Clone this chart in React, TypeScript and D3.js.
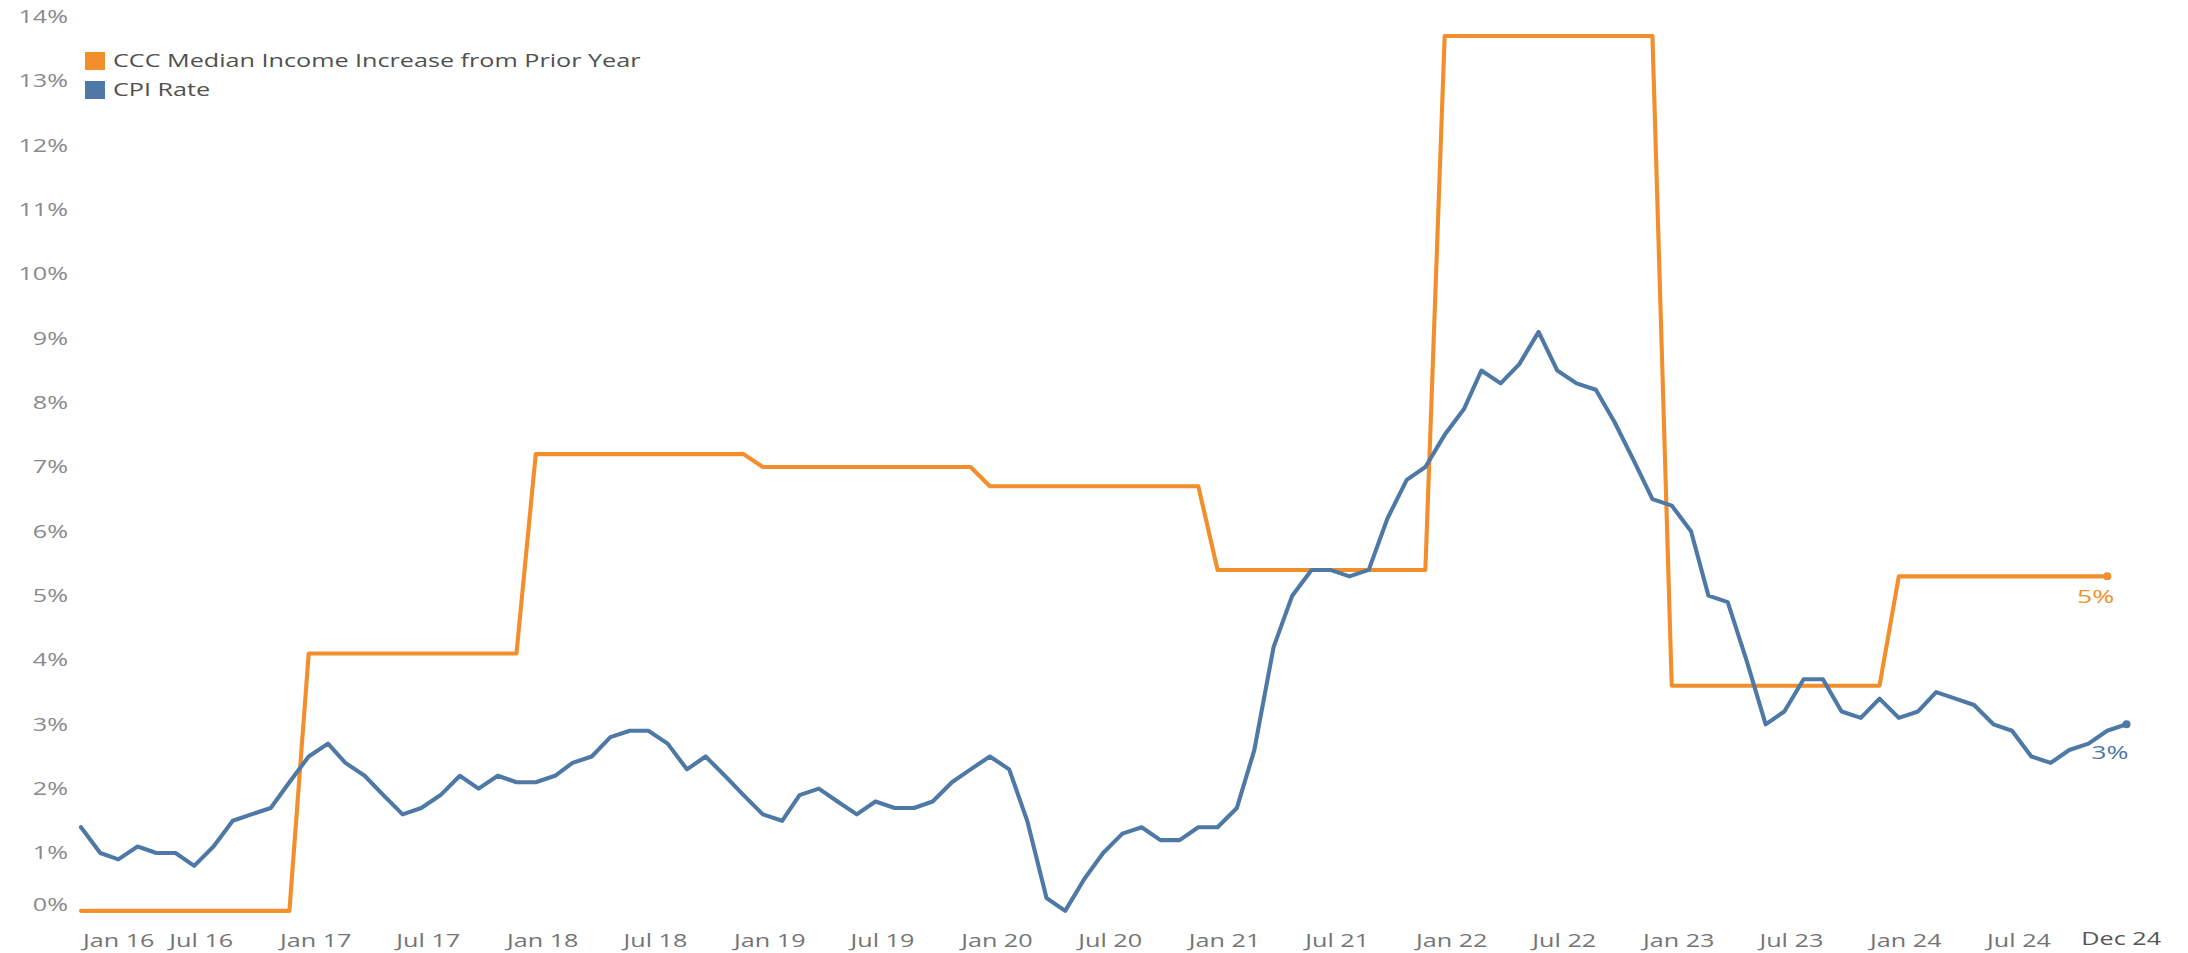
import React from 'react';
import * as d3 from 'd3';

// ---------- DATA ----------
const START_MONTH = new Date(2016, 0, 1);

// US CPI year-over-year rate (%), monthly Jan 2016 .. Jan 2025
const cpi2016 = [1.4, 1.0, 0.9, 1.1, 1.0, 1.0, 0.8, 1.1, 1.5, 1.6, 1.7, 2.1];
const cpi2017 = [2.5, 2.7, 2.4, 2.2, 1.9, 1.6, 1.7, 1.9, 2.2, 2.0, 2.2, 2.1];
const cpi2018 = [2.1, 2.2, 2.4, 2.5, 2.8, 2.9, 2.9, 2.7, 2.3, 2.5, 2.2, 1.9];
const cpi2019 = [1.6, 1.5, 1.9, 2.0, 1.8, 1.6, 1.8, 1.7, 1.7, 1.8, 2.1, 2.3];
const cpi2020 = [2.5, 2.3, 1.5, 0.3, 0.1, 0.6, 1.0, 1.3, 1.4, 1.2, 1.2, 1.4];
const cpi2021 = [1.4, 1.7, 2.6, 4.2, 5.0, 5.4, 5.4, 5.3, 5.4, 6.2, 6.8, 7.0];
const cpi2022 = [7.5, 7.9, 8.5, 8.3, 8.6, 9.1, 8.5, 8.3, 8.2, 7.7, 7.1, 6.5];
const cpi2023 = [6.4, 6.0, 5.0, 4.9, 4.0, 3.0, 3.2, 3.7, 3.7, 3.2, 3.1, 3.4];
const cpi2024 = [3.1, 3.2, 3.5, 3.4, 3.3, 3.0, 2.9, 2.5, 2.4, 2.6, 2.7, 2.9];
const cpi2025 = [3.0];

// CCC median income increase from prior year (%), one value per calendar year (monthly steps)
const incomeYears = [2016, 2017, 2018, 2019, 2020, 2021, 2022, 2023, 2024];
const incomeIncrease = [0.1, 4.1, 7.2, 7.0, 6.7, 5.4, 13.7, 3.6, 5.3];

const yTicks = [0, 1, 2, 3, 4, 5, 6, 7, 8, 9, 10, 11, 12, 13, 14];
const xTickYears = [2016, 2017, 2018, 2019, 2020, 2021, 2022, 2023, 2024];
const xTickMonths = [0, 6];

const seriesNames = ['CCC Median Income Increase from Prior Year', 'CPI Rate'];
const ORANGE = '#f28e2b';
const BLUE = '#4e79a7';

// ---------- BUILD ----------
const cpiValues = [
  ...cpi2016, ...cpi2017, ...cpi2018, ...cpi2019, ...cpi2020,
  ...cpi2021, ...cpi2022, ...cpi2023, ...cpi2024, ...cpi2025,
];
const cpiData = cpiValues.map((v, i) => ({ date: d3.timeMonth.offset(START_MONTH, i), v }));

const incomeData: { date: Date; v: number }[] = [];
incomeYears.forEach((yr, k) => {
  for (let m = 0; m < 12; m++) incomeData.push({ date: new Date(yr, m, 1), v: incomeIncrease[k] });
});

const W = 2188;
const H = 953;
const SX = 1.4; // horizontal text stretch
const FONT = '"Open Sans", "Noto Sans", sans-serif';

export default function App() {
  const x = d3.scaleTime()
    .domain([new Date(2016, 0, 1), new Date(2025, 0, 1)])
    .range([81, 2126.5]);
  const y = d3.scaleLinear().domain([0, 14]).range([917.3, 16.7]);

  const line = d3.line<{ date: Date; v: number }>()
    .x(d => x(d.date))
    .y(d => y(d.v));

  const xTicks: Date[] = [];
  xTickYears.forEach(yr => xTickMonths.forEach(m => xTicks.push(new Date(yr, m, 1))));
  const fmt = d3.timeFormat('%b %y');

  const lastCpi = cpiData[cpiData.length - 1];
  const lastInc = incomeData[incomeData.length - 1];

  const T = (px: number, py: number, sx = SX) => `translate(${px},${py}) scale(${sx},1)`;

  return (
    <svg width={W} height={H} style={{ position: 'absolute', left: 0, top: 0, background: '#fff' }}
      fontFamily={FONT}>
      <rect width={W} height={H} fill="#fff" />
      {/* y axis labels */}
      {yTicks.map(t => (
        <text key={t} transform={T(68, y(t) - (t === 0 ? 13 : 0))} dy="0.35em" textAnchor="end"
          fontSize={18} fill="#8a8a8a">{t}%</text>
      ))}
      {/* x axis labels */}
      {xTicks.map((d, i) => (
        <text key={i} transform={T(i === 0 ? x(d) + 2 : x(d) + 7, 947)}
          textAnchor={i === 0 ? 'start' : 'middle'} fontSize={18} fill="#757575">{fmt(d)}</text>
      ))}
      <text transform={T(x(lastInc.date) + 14, 945)} textAnchor="middle" fontSize={18} fill="#555">
        {fmt(lastInc.date)}
      </text>

      {/* lines */}
      <path d={line(incomeData) || ''} fill="none" stroke={ORANGE} strokeWidth={4.1}
        strokeLinejoin="round" strokeLinecap="round" />
      <path d={line(cpiData) || ''} fill="none" stroke={BLUE} strokeWidth={4.1}
        strokeLinejoin="round" strokeLinecap="round" />
      <circle cx={x(lastInc.date)} cy={y(lastInc.v)} r={4} fill={ORANGE} />
      <circle cx={x(lastCpi.date)} cy={y(lastCpi.v)} r={4} fill={BLUE} />

      {/* end labels */}
      <text transform={T(x(lastInc.date) + 7, y(lastInc.v) + 27)} textAnchor="end" fontSize={19}
        fill={ORANGE}>{d3.format('.0f')(lastInc.v)}%</text>
      <text transform={T(x(lastCpi.date) + 2, y(lastCpi.v) + 35)} textAnchor="end" fontSize={19}
        fill={BLUE}>{d3.format('.0f')(lastCpi.v)}%</text>

      {/* legend */}
      {seriesNames.map((name, i) => (
        <g key={name}>
          <rect x={85} y={52 + i * 29} width={20} height={18} fill={i === 0 ? ORANGE : BLUE} />
          <text transform={T(113, 61 + i * 29, 1.36)} dy="0.35em" fontSize={18.5} fill="#505050">{name}</text>
        </g>
      ))}
    </svg>
  );
}
